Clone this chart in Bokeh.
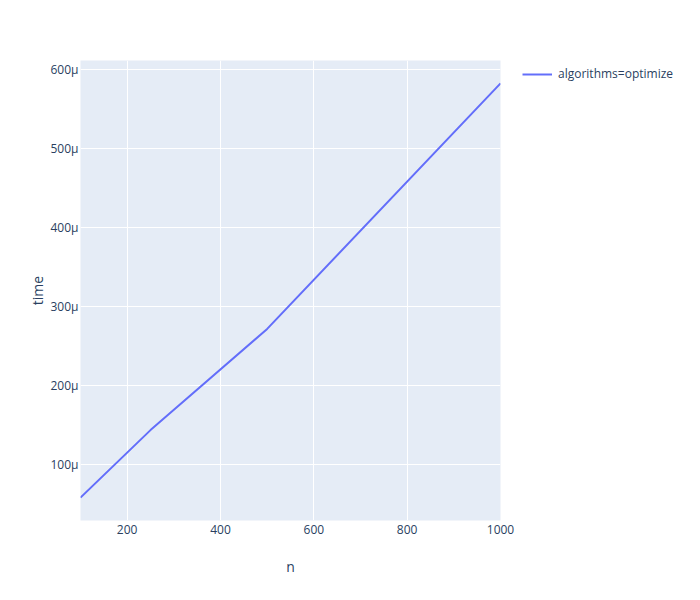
from bokeh.plotting import figure
from bokeh.models import Range1d, FixedTicker, CustomJSTickFormatter, Legend, LegendItem
from bokeh.embed import file_html
from bokeh.resources import INLINE

n_values = [100, 250, 500, 1000]
time_values = [58.6e-6, 144e-6, 272e-6, 582.5e-6]
series_name = "algorithms=optimize"
x_ticks = [200, 400, 600, 800, 1000]
y_ticks = [100e-6, 200e-6, 300e-6, 400e-6, 500e-6, 600e-6]

FONT = "Open Sans"
TXT = "#2a3f5f"

p = figure(frame_width=420, frame_height=460, output_backend="svg", toolbar_location=None,
           x_range=Range1d(100, 1000), y_range=Range1d(29.7e-6, 611.4e-6),
           min_border_left=80, min_border_right=200, min_border_top=60, min_border_bottom=80)
p.background_fill_color = "#E5ECF6"
p.border_fill_color = "white"
p.outline_line_color = None

r = p.line(n_values, time_values, line_color="#636efa", line_width=2)

for ax in (p.xaxis[0], p.yaxis[0]):
    ax.axis_line_color = None
    ax.major_tick_line_color = None
    ax.minor_tick_line_color = None
    ax.major_tick_out = 0
    ax.major_tick_in = 0
    ax.minor_tick_out = 0
    ax.minor_tick_in = 0
    ax.major_label_text_font = FONT
    ax.major_label_text_font_size = "12px"
    ax.major_label_text_color = TXT
    ax.axis_label_text_font = FONT
    ax.axis_label_text_font_size = "14px"
    ax.axis_label_text_color = TXT
    ax.axis_label_text_font_style = "normal"

p.xaxis.ticker = FixedTicker(ticks=x_ticks)
p.yaxis.ticker = FixedTicker(ticks=y_ticks)
p.yaxis.formatter = CustomJSTickFormatter(code="return Math.round(tick*1e6) + 'μ';")
p.xaxis.axis_label = "n"
p.yaxis.axis_label = "time"
p.xaxis.major_label_standoff = 4
p.xaxis.axis_label_standoff = 20
p.yaxis.major_label_standoff = 2
p.yaxis.axis_label_standoff = 0

p.xgrid.grid_line_color = "white"
p.ygrid.grid_line_color = "white"
p.xgrid.grid_line_width = 1
p.ygrid.grid_line_width = 1

legend = Legend(items=[LegendItem(label=series_name, renderers=[r])],
                location=(22, 438), padding=0, margin=0, spacing=0,
                glyph_width=30, glyph_height=14, label_height=14, label_standoff=6,
                border_line_color=None, background_fill_alpha=0,
                label_text_font=FONT, label_text_font_size="12px", label_text_color=TXT)
p.add_layout(legend, "right")

open("out.html", "w").write(file_html(p, INLINE))
